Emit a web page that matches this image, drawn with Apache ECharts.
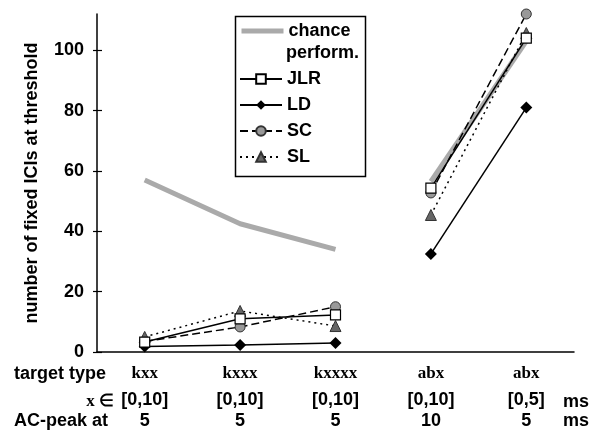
<!DOCTYPE html>
<html>
<head>
    <meta charset="utf-8">
    <title>ICIs at threshold</title>
    <script src="https://cdn.jsdelivr.net/npm/echarts@6/dist/echarts.min.js"></script>
</head>
<body style="margin:0;background:#fff">
    <div id="main" style="width: 601px;height:436px;"></div>
    <script type="text/javascript">
        // categories and the two extra label rows under them
        var targetTypes = ['kxx', 'kxxx', 'kxxxx', 'abx', 'abx'];
        var ranges = ['[0,10]', '[0,10]', '[0,10]', '[0,10]', '[0,5]'];
        var peaks = ['5', '5', '5', '10', '5'];
        var yTicks = [0, 20, 40, 60, 80, 100];

        // values
        var chance = [57, 42.5, 34, 56.5, 103];
        var JLR = [3.3, 11, 12.3, 54.3, 104];
        var LD = [1.8, 2.3, 3, 32.5, 81];
        var SC = [3.5, 8.3, 15, 52.7, 112];
        var SL = [5, 13.6, 8.6, 45.4, 105.7];

        var sans = 'Liberation Sans';
        var serif = 'Liberation Serif';

        var myChart = echarts.init(document.getElementById('main'));

        // k-types and abx are not joined, so each line is two series
        function part(arr, first) {
            return arr.map(function (v, i) { return (i < 3) === first ? v : null; });
        }
        function pair(name, arr, style) {
            return [true, false].map(function (first) {
                return Object.assign({
                    name: name,
                    type: 'line',
                    data: part(arr, first),
                    clip: false,
                    animation: false
                }, style);
            });
        }

        var series = [].concat(
            pair('chance', chance, {
                symbol: 'none', z: 1,
                lineStyle: { color: '#aaaaaa', width: 5 },
                itemStyle: { color: '#aaaaaa' }
            }),
            pair('JLR', JLR, {
                symbol: 'rect', symbolSize: 10, z: 4,
                lineStyle: { color: '#000', width: 1.5 },
                itemStyle: { color: '#fff', borderColor: '#000', borderWidth: 1.2 }
            }),
            pair('LD', LD, {
                symbol: 'diamond', symbolSize: 12, z: 3,
                lineStyle: { color: '#000', width: 1.5 },
                itemStyle: { color: '#000', borderColor: '#000', borderWidth: 0 }
            }),
            pair('SC', SC, {
                symbol: 'circle', symbolSize: 10, z: 3,
                lineStyle: { color: '#000', width: 1.5, type: [8, 4] },
                itemStyle: { color: '#999', borderColor: '#333', borderWidth: 1 }
            }),
            pair('SL', SL, {
                symbol: 'triangle', symbolSize: 11, z: 3,
                lineStyle: { color: '#000', width: 1.5, type: [2, 4] },
                itemStyle: { color: '#666', borderColor: '#333', borderWidth: 1 }
            })
        );

        var bold = { fontFamily: sans, fontWeight: 'bold', fontSize: 18, color: '#000' };

        var option = {
            backgroundColor: '#fff',
            animation: false,
            grid: { left: 97, right: 27, top: 14, bottom: 84 },
            legend: [{
                data: [{
                    name: 'chance',
                    itemStyle: { opacity: 0 },
                    lineStyle: { color: '#aaaaaa', width: 5 }
                }],
                left: 239, top: 22, padding: 0,
                itemWidth: 42, itemHeight: 12,
                textStyle: Object.assign({ lineHeight: 17 }, bold)
            }, {
                data: ['JLR', 'LD', 'SC', 'SL'],
                orient: 'vertical',
                left: 239, top: 70, padding: 0,
                itemWidth: 42, itemHeight: 12, itemGap: 8,
                textStyle: Object.assign({ lineHeight: 17 }, bold)
            }],
            xAxis: {
                type: 'category',
                data: targetTypes,
                boundaryGap: true,
                axisLine: { lineStyle: { color: '#000', width: 1.5 } },
                axisTick: { show: false },
                axisLabel: {
                    margin: 11,
                    interval: 0,
                    formatter: function (v, i) {
                        return '{t|' + targetTypes[i] + '}\n{r|' + ranges[i] + '}\n{p|' + peaks[i] + '}';
                    },
                    rich: {
                        t: { fontFamily: serif, fontWeight: 'bold', fontSize: 17, color: '#000', lineHeight: 22 },
                        r: Object.assign({ lineHeight: 30 }, bold),
                        p: Object.assign({ lineHeight: 12 }, bold)
                    }
                }
            },
            yAxis: [{
                type: 'value',
                min: 0, max: 112, interval: 20,
                name: 'number of fixed ICIs at threshold',
                nameLocation: 'middle',
                nameGap: 56,
                nameTextStyle: bold,
                axisLine: { show: true, lineStyle: { color: '#000', width: 1.5 } },
                axisTick: { show: true, length: 4, customValues: yTicks, lineStyle: { color: '#000', width: 1.2 } },
                axisLabel: Object.assign({ margin: 13, customValues: yTicks }, bold),
                splitLine: { show: false }
            }, {
                type: 'value',
                position: 'left',
                min: 0, max: 112, interval: 20,
                axisLine: { show: false },
                axisTick: { show: true, inside: true, length: 5, customValues: yTicks, lineStyle: { color: '#000', width: 1.2 } },
                axisLabel: { show: false },
                splitLine: { show: false }
            }],
            graphic: [
                { type: 'rect', left: 233, top: 14, z: 0,
                  shape: { width: 130, height: 160 },
                  style: { fill: 'none', stroke: '#000', lineWidth: 1.5 } },
                { type: 'text', left: 286, top: 44,
                  style: { text: 'perform.', font: 'bold 18px ' + sans, fill: '#000' } },
                { type: 'text', left: 14, top: 365,
                  style: { text: 'target type', font: 'bold 18px ' + sans, fill: '#000' } },
                { type: 'text', right: 487, top: 393,
                  style: { text: 'x \u2208', font: 'bold 17px ' + serif, fill: '#000' } },
                { type: 'text', left: 14, top: 412,
                  style: { text: 'AC-peak at', font: 'bold 18px ' + sans, fill: '#000' } },
                { type: 'text', left: 563, top: 393,
                  style: { text: 'ms', font: 'bold 18px ' + sans, fill: '#000' } },
                { type: 'text', left: 563, top: 412,
                  style: { text: 'ms', font: 'bold 18px ' + sans, fill: '#000' } }
            ],
            series: series
        };

        myChart.setOption(option);
    </script>
</body>
</html>
